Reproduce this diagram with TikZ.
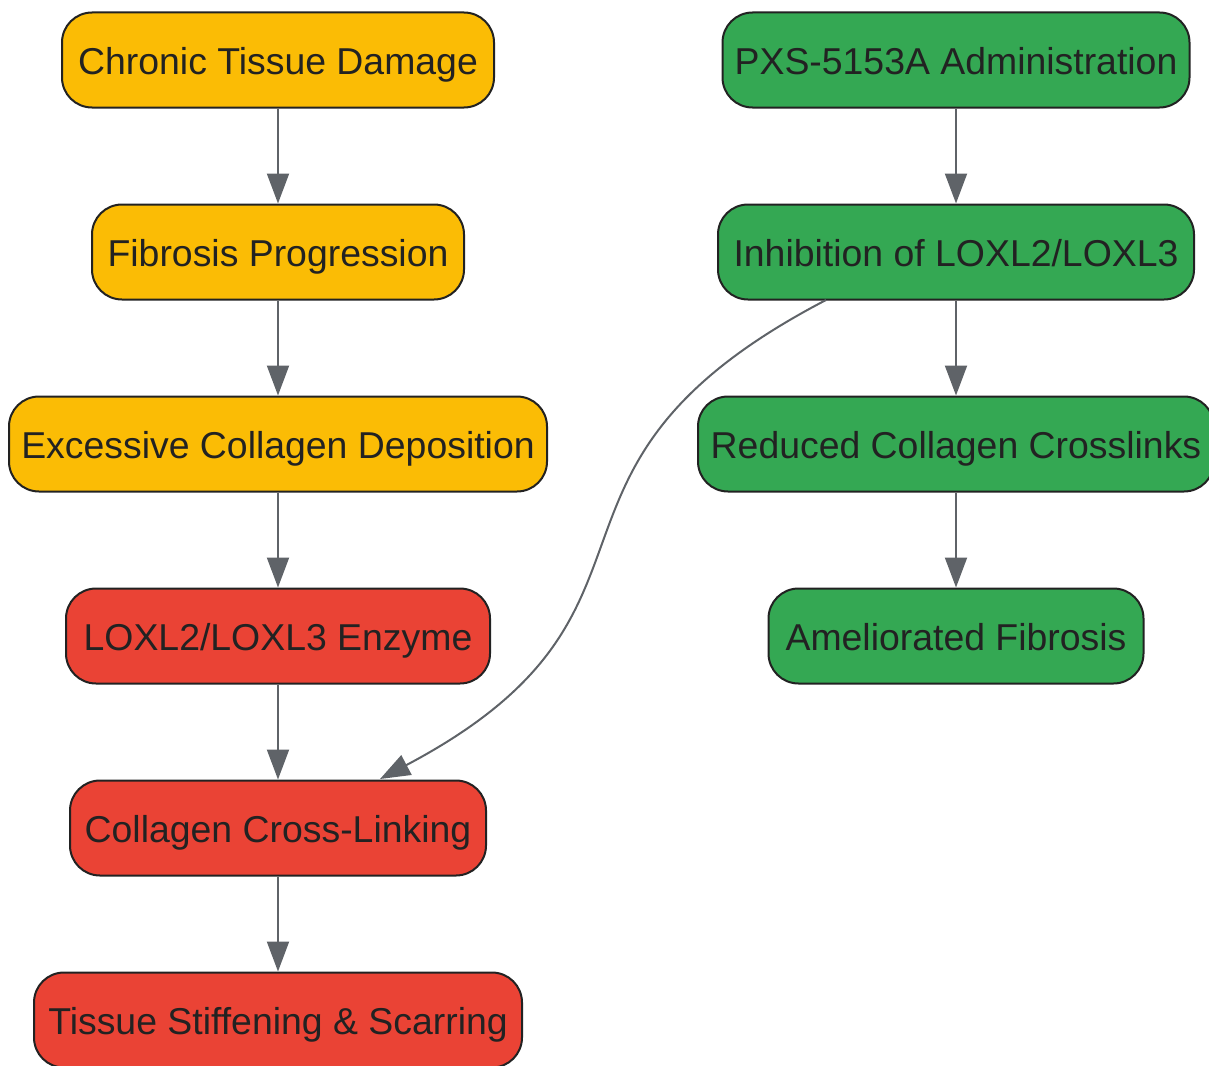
\documentclass[tikz,border=0pt]{standalone}
\usepackage{fontspec}
\setmainfont{Liberation Sans}
\usetikzlibrary{arrows.meta}
\definecolor{cyel}{HTML}{FBBC05}
\definecolor{cgrn}{HTML}{34A853}
\definecolor{cred}{HTML}{EA4335}
\definecolor{cbord}{HTML}{222222}
\definecolor{carr}{HTML}{5F6368}
\tikzset{
  box/.style={draw=cbord, line width=2pt, rounded corners=30pt, minimum height=95pt,
    inner sep=0pt, text=cbord, text height=29.5pt, text depth=0pt,
    font=\fontsize{37.4}{44}\selectfont},
  ybox/.style={box, fill=cyel},
  gbox/.style={box, fill=cgrn},
  rbox/.style={box, fill=cred},
  conn/.style={draw=carr, line width=2pt, -{Triangle[length=30pt,width=22pt]}}
}
\begin{document}
\begin{tikzpicture}[x=1pt,y=-1pt]
\useasboundingbox (0,0) rectangle (1209,1065);
\node[ybox, minimum width=432pt] (a) at (278,60) {Chronic Tissue Damage};
\node[ybox, minimum width=372pt] (b) at (278,252) {Fibrosis Progression};
\node[ybox, minimum width=538pt] (c) at (278,444) {Excessive Collagen Deposition};
\node[rbox, minimum width=424pt] (d) at (278,636) {LOXL2/LOXL3 Enzyme};
\node[rbox, minimum width=416pt] (e) at (278,828) {Collagen Cross-Linking};
\node[rbox, minimum width=488pt] (f) at (278,1020) {Tissue Stiffening \& Scarring};
\node[gbox, minimum width=467pt] (g) at (956,60) {PXS-5153A Administration};
\node[gbox, minimum width=476pt] (h) at (956,252) {Inhibition of LOXL2/LOXL3};
\node[gbox, minimum width=516pt] (i) at (956,444) {Reduced Collagen Crosslinks};
\node[gbox, minimum width=375pt] (j) at (956,636) {Ameliorated Fibrosis};
\draw[conn] (a) -- (b);
\draw[conn] (b) -- (c);
\draw[conn] (c) -- (d);
\draw[conn] (d) -- (e);
\draw[conn] (e) -- (f);
\draw[conn] (g) -- (h);
\draw[conn] (h) -- (i);
\draw[conn] (i) -- (j);
\coordinate (hs) at (826,300);
\coordinate (et) at (380,779);
\draw[conn] (hs) .. controls (500,470) and (700,610) .. (et);
\end{tikzpicture}
\end{document}
